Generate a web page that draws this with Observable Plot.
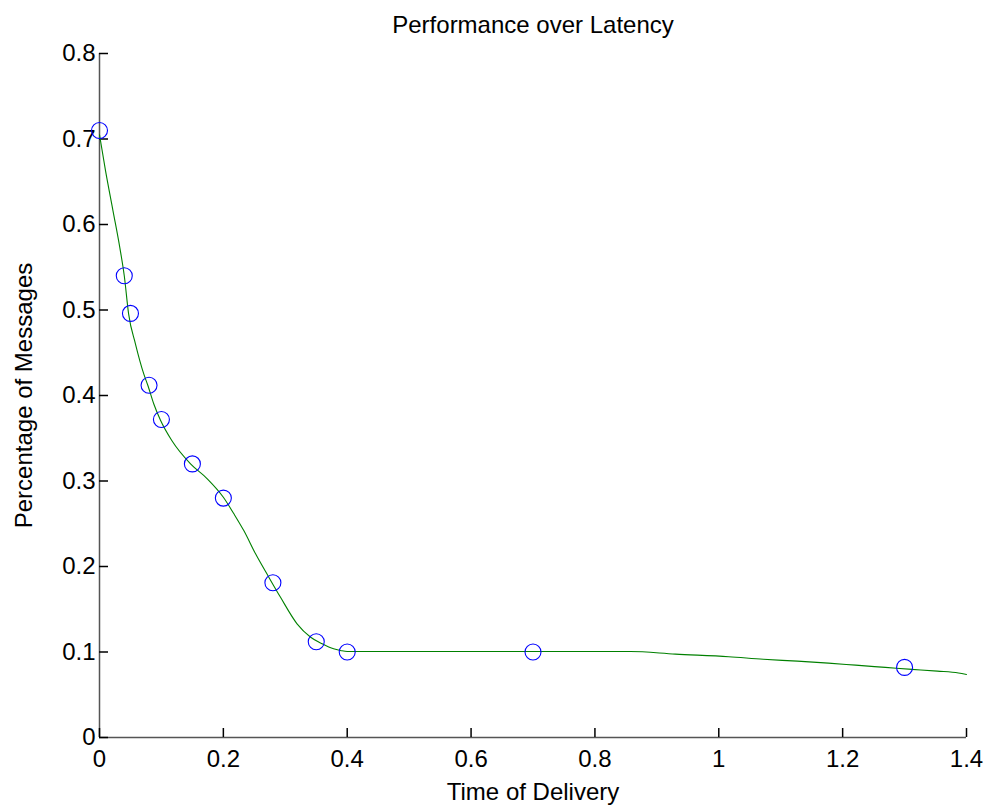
<!DOCTYPE html>
<html>
<head>
<meta charset="utf-8">
<script src="https://cdn.jsdelivr.net/npm/d3@7"></script>
<script src="https://cdn.jsdelivr.net/npm/@observablehq/plot@0.6"></script>
<style>
  html, body { margin: 0; padding: 0; background: #ffffff; }
  #chart { width: 988px; height: 808px; }
</style>
</head>
<body>
<div id="chart"></div>
<script>
// ---- data ----
const titleText = "Performance over Latency";
const xLabelText = "Time of Delivery";
const yLabelText = "Percentage of Messages";

const xTicks = [0, 0.2, 0.4, 0.6, 0.8, 1.0, 1.2, 1.4];
const xTickLabels = ["0", "0.2", "0.4", "0.6", "0.8", "1", "1.2", "1.4"];
const yTicks = [0, 0.1, 0.2, 0.3, 0.4, 0.5, 0.6, 0.7, 0.8];
const yTickLabels = ["0", "0.1", "0.2", "0.3", "0.4", "0.5", "0.6", "0.7", "0.8"];

// measured points (blue circles)
const markerX = [0, 0.04, 0.05, 0.08, 0.10, 0.15, 0.20, 0.28, 0.35, 0.40, 0.70, 1.30];
const markerY = [0.710, 0.540, 0.496, 0.412, 0.372, 0.320, 0.280, 0.181, 0.112, 0.100, 0.100, 0.082];

// fitted curve (green line)
const curveX = [0, 0.0097, 0.0218, 0.0328, 0.040, 0.047, 0.058, 0.0716, 0.078, 0.0877, 0.0985, 0.117,
  0.147, 0.174, 0.200, 0.217, 0.233, 0.252, 0.2734, 0.2923, 0.319, 0.341, 0.3595, 0.378, 0.389,
  0.400, 0.857, 0.930, 1.016, 1.072, 1.127, 1.177, 1.221, 1.269, 1.312, 1.353, 1.387, 1.400];
const curveY = [0.705, 0.663, 0.616, 0.573, 0.540, 0.4955, 0.4605, 0.425, 0.412, 0.390, 0.371, 0.347,
  0.320, 0.3026, 0.281, 0.2616, 0.242, 0.2148, 0.1875, 0.164, 0.133, 0.1173, 0.1096, 0.1037, 0.1018,
  0.1005, 0.1005, 0.0975, 0.0945, 0.0915, 0.0893, 0.0870, 0.0846, 0.0820, 0.0797, 0.0776, 0.0755, 0.0737];

// ---- build tables ----
const markers = markerX.map((x, i) => ({x, y: markerY[i]}));
const curve = curveX.map((x, i) => ({x, y: curveY[i]}));

const W = 988, H = 808;
const mLeft = 99, mRight = 22, mTop = 53, mBottom = 71;
const plotW = W - mLeft - mRight;
const plotH = H - mTop - mBottom;
const tickLen = 9;

const chart = Plot.plot({
  width: W,
  height: H,
  marginLeft: mLeft,
  marginRight: mRight,
  marginTop: mTop,
  marginBottom: mBottom,
  style: {fontFamily: "'Liberation Sans', Arial, Helvetica, sans-serif", fontSize: "24px", color: "#000", background: "#fff", overflow: "visible"},
  x: {domain: [0, 1.4]},
  y: {domain: [0, 0.8]},
  marks: [
    // axis lines (left and bottom only)
    Plot.ruleX([0], {y1: 0, y2: 0.8, stroke: "#555", strokeWidth: 1.5}),
    Plot.ruleY([0], {x1: 0, x2: 1.4, stroke: "#555", strokeWidth: 1.5}),
    // inward tick marks
    Plot.tickX(xTicks, {x: d => d, insetTop: plotH - tickLen, stroke: "#000", strokeWidth: 1.5}),
    Plot.tickY(yTicks, {y: d => d, insetRight: plotW - tickLen, stroke: "#000", strokeWidth: 1.5}),
    // tick labels
    Plot.axisX(xTicks, {tickSize: 0, tickPadding: 12, tickFormat: (d, i) => xTickLabels[i], fontSize: 24, label: null}),
    Plot.axisY(yTicks, {tickSize: 0, tickPadding: 4, tickFormat: (d, i) => yTickLabels[i], fontSize: 24, label: null}),
    // fitted curve
    Plot.line(curve, {x: "x", y: "y", stroke: "#008000", strokeWidth: 1.1, curve: "monotone-x"}),
    // measured points
    Plot.dot(markers, {x: "x", y: "y", r: 8, stroke: "#0000ff", strokeWidth: 1.1, fill: "none"}),
    // title and axis labels
    Plot.text([titleText], {frameAnchor: "top", lineAnchor: "middle", dy: -28, fontSize: 24, fill: "#000"}),
    Plot.text([xLabelText], {frameAnchor: "bottom", lineAnchor: "middle", dy: 55, fontSize: 24, fill: "#000"}),
    Plot.text([yLabelText], {frameAnchor: "left", textAnchor: "middle", lineAnchor: "middle", dx: -75, rotate: -90, fontSize: 24, fill: "#000"})
  ]
});

document.getElementById("chart").appendChild(chart);
</script>
</body>
</html>
